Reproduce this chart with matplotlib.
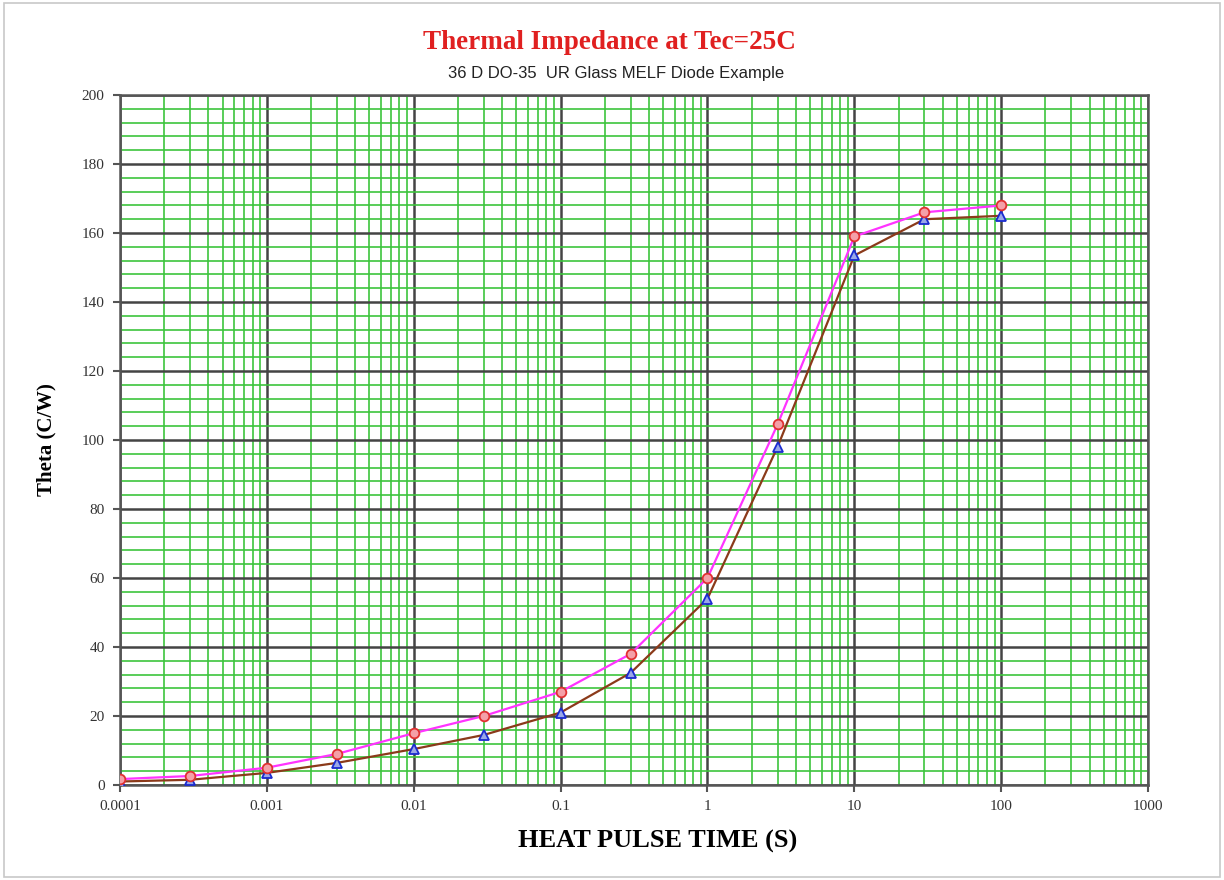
import matplotlib
matplotlib.use('Agg')
import matplotlib.pyplot as plt
from matplotlib.ticker import FixedLocator, FixedFormatter, LogLocator, MultipleLocator
from matplotlib.patches import Rectangle

# pulse time (s) and thermal impedance readings
pulse_time = [1e-4, 3e-4, 1e-3, 3e-3, 0.01, 0.03, 0.1, 0.3, 1, 3, 10, 30, 100]
theta_upper = [1.7, 2.6, 5.0, 9.0, 15.0, 20.0, 27.0, 38.0, 60.0, 104.5, 159.0, 166.0, 168.0]
theta_lower = [1.0, 1.5, 3.5, 6.4, 10.4, 14.5, 21.0, 32.5, 54.0, 98.0, 153.5, 164.0, 165.0]

x_ticks = [1e-4, 1e-3, 1e-2, 1e-1, 1, 10, 100, 1000]
x_tick_labels = ['0.0001', '0.001', '0.01', '0.1', '1', '10', '100', '1000']
y_ticks = [0, 20, 40, 60, 80, 100, 120, 140, 160, 180, 200]

fig = plt.figure(figsize=(12.24, 8.8), dpi=100)
ax = fig.add_axes([0.098, 0.108, 0.840, 0.784])

ax.set_xscale('log')
ax.set_xlim(1e-4, 1000)
ax.set_ylim(0, 200)

ax.xaxis.set_major_locator(FixedLocator(x_ticks))
ax.xaxis.set_major_formatter(FixedFormatter(x_tick_labels))
ax.xaxis.set_minor_locator(LogLocator(base=10, subs=range(2, 10), numticks=20))
ax.xaxis.set_minor_formatter(FixedFormatter([]))
ax.yaxis.set_major_locator(FixedLocator(y_ticks))
ax.yaxis.set_minor_locator(MultipleLocator(4))

ax.grid(which='minor', color='#3cc43c', linewidth=1.4, alpha=0.85)
ax.grid(which='major', color='#444444', linewidth=1.8)
ax.set_axisbelow(True)

for s in ax.spines.values():
    s.set_color('#555555')
    s.set_linewidth(1.8)

ax.tick_params(which='major', direction='out', length=5, width=1.5, color='#555555',
               labelsize=11, labelcolor='#333333', pad=6)
ax.tick_params(which='minor', length=0)
for lbl in ax.get_xticklabels() + ax.get_yticklabels():
    lbl.set_family('Liberation Serif')

ax.plot(pulse_time, theta_lower, color='#8b3a1a', linewidth=1.6,
        marker='^', markersize=7, markerfacecolor='#9aa8e8', markeredgecolor='#1a2bd0',
        markeredgewidth=1.3, zorder=3)
ax.plot(pulse_time, theta_upper, color='#ff33ff', linewidth=1.6,
        marker='o', markersize=7, markerfacecolor='#f4a0a8', markeredgecolor='#e03030',
        markeredgewidth=1.3, zorder=4)

fig.text(0.498, 0.952, 'Thermal Impedance at Tec=25C', color='#e02020',
         fontsize=19.5, fontweight='bold', family='Liberation Serif', ha='center', va='center')
fig.text(0.503, 0.917, '36 D DO-35  UR Glass MELF Diode Example', color='#222222',
         fontsize=12, family='Liberation Sans', ha='center', va='center')
ax.set_xlabel('HEAT PULSE TIME (S)', fontsize=19, fontweight='bold',
              family='Liberation Serif')
ax.xaxis.set_label_coords(0.523, -0.065)
ax.set_ylabel('Theta (C/W)', fontsize=15, fontweight='bold',
              family='Liberation Serif', labelpad=18)

fig.patches.append(Rectangle((0.003, 0.003), 0.994, 0.994, transform=fig.transFigure,
                             fill=False, edgecolor='#c8c8c8', linewidth=1.2))

fig.savefig('out.png', dpi=100, facecolor='white')
